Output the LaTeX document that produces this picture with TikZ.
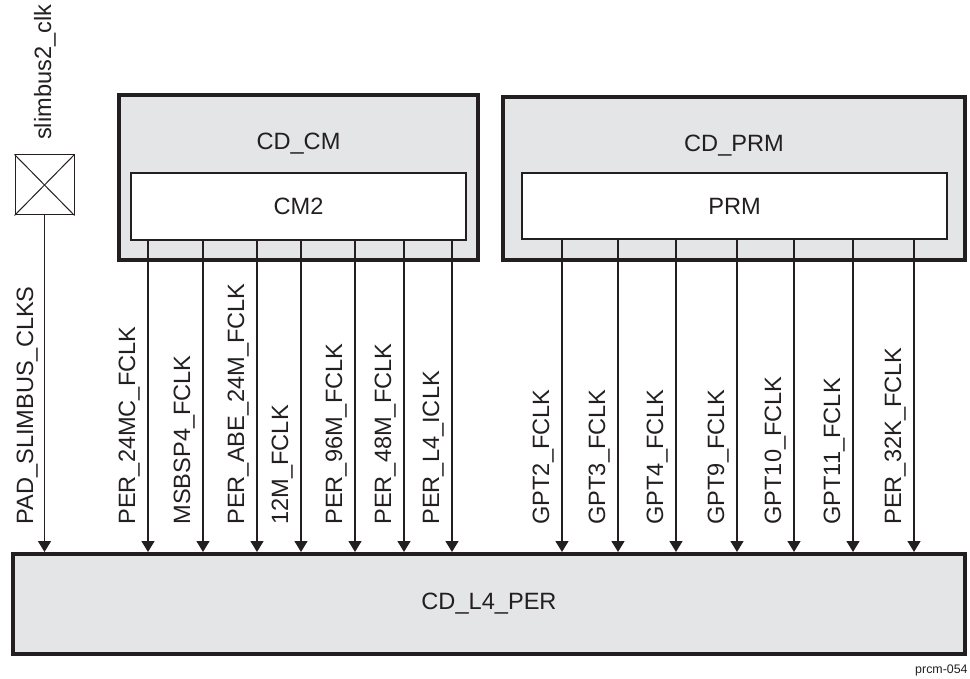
\documentclass[tikz,border=0pt]{standalone}
\usepackage{fontspec}
\setmainfont{Liberation Sans}
\usepackage{xcolor}
\usetikzlibrary{arrows.meta, positioning}

\definecolor{ink}{HTML}{231F20}
\definecolor{domfill}{HTML}{E4E5E7}

\tikzset{
    cdbox/.style={draw=ink, line width=2pt, fill=domfill, inner sep=0pt},
    module/.style={draw=ink, line width=1.2pt, fill=white, inner sep=0pt},
    clk/.style={draw=ink, line width=0.7pt, -{Triangle[length=5.5pt, width=6.5pt]}},
    sig/.style={rotate=90, anchor=base west, inner sep=0pt, text=ink},
    boxtext/.style={text=ink}
}

\begin{document}
\begin{tikzpicture}[x=0.5pt, y=-0.5pt, font=\fontsize{11.8pt}{14pt}\selectfont]
    \useasboundingbox (0,0) rectangle (970,679);

    % Clock domains
    \node[cdbox, minimum width=179.5pt, minimum height=82.5pt] (cdcm) at (298.5,177.5) {};
    \node[boxtext] (cdcmlbl) at (298.5,144) {CD\_CM};
    \node[module, minimum width=167.5pt, minimum height=33.5pt] (cm2) at (298.5,206.5) {};
    \node[boxtext] at (cm2) {CM2};

    \node[cdbox, minimum width=231pt, minimum height=81.5pt] (cdprm) at (734,178.5) {};
    \node[boxtext] (cdprmlbl) at (734,146) {CD\_PRM};
    \node[module, minimum width=212.5pt, minimum height=33pt] (prm) at (734.5,206) {};
    \node[boxtext] at (prm) {PRM};

    \node[cdbox, minimum width=476pt, minimum height=50pt] (l4per) at (489,604) {};
    \node[boxtext] at (l4per) {CD\_L4\_PER};

    % Pad
    \node[draw=ink, line width=0.5pt, minimum width=29.5pt, minimum height=30pt, inner sep=0pt] (pad) at (44.5,185) {};
    \draw[ink, line width=0.5pt] (pad.north west) -- (pad.south east);
    \draw[ink, line width=0.5pt] (pad.north east) -- (pad.south west);
    \node[rotate=90, anchor=west, text=ink] (padlbl) at (45,147) {slimbus2\_clk};

    % Pad clock
    \draw[clk] (pad.south) -- (l4per.north -| pad.south);
    \node[sig] (padclks) at (33,525) {PAD\_SLIMBUS\_CLKS};

    % Clocks from CM2
    \draw[clk] (cm2.south -| 148,0) -- (l4per.north -| 148,0);
    \draw[clk] (cm2.south -| 203,0) -- (l4per.north -| 203,0);
    \draw[clk] (cm2.south -| 257,0) -- (l4per.north -| 257,0);
    \draw[clk] (cm2.south -| 301,0) -- (l4per.north -| 301,0);
    \draw[clk] (cm2.south -| 355,0) -- (l4per.north -| 355,0);
    \draw[clk] (cm2.south -| 404,0) -- (l4per.north -| 404,0);
    \draw[clk] (cm2.south -| 452,0) -- (l4per.north -| 452,0);
    \node[sig] (per24mc) at (135,525) {PER\_24MC\_FCLK};
    \node[sig] (msbsp4) at (190,525) {MSBSP4\_FCLK};
    \node[sig] (perabe) at (244,525) {PER\_ABE\_24M\_FCLK};
    \node[sig] (f12m) at (288,525) {12M\_FCLK};
    \node[sig] (per96m) at (342,525) {PER\_96M\_FCLK};
    \node[sig] (per48m) at (391,525) {PER\_48M\_FCLK};
    \node[sig] (perl4) at (439,525) {PER\_L4\_ICLK};

    % Clocks from PRM
    \draw[clk] (prm.south -| 562,0) -- (l4per.north -| 562,0);
    \draw[clk] (prm.south -| 618,0) -- (l4per.north -| 618,0);
    \draw[clk] (prm.south -| 676,0) -- (l4per.north -| 676,0);
    \draw[clk] (prm.south -| 737,0) -- (l4per.north -| 737,0);
    \draw[clk] (prm.south -| 794,0) -- (l4per.north -| 794,0);
    \draw[clk] (prm.south -| 853,0) -- (l4per.north -| 853,0);
    \draw[clk] (prm.south -| 914,0) -- (l4per.north -| 914,0);
    \node[sig] (gpt2) at (549,525) {GPT2\_FCLK};
    \node[sig] (gpt3) at (605,525) {GPT3\_FCLK};
    \node[sig] (gpt4) at (663,525) {GPT4\_FCLK};
    \node[sig] (gpt9) at (724,525) {GPT9\_FCLK};
    \node[sig] (gpt10) at (781,525) {GPT10\_FCLK};
    \node[sig] (gpt11) at (840,525) {GPT11\_FCLK};
    \node[sig] (per32k) at (901,525) {PER\_32K\_FCLK};

    % Figure tag
    \node[anchor=base east, inner sep=0pt, text=ink, font=\fontsize{6.2pt}{8pt}\selectfont] (tag) at (968,673) {prcm-054};
\end{tikzpicture}
\end{document}
